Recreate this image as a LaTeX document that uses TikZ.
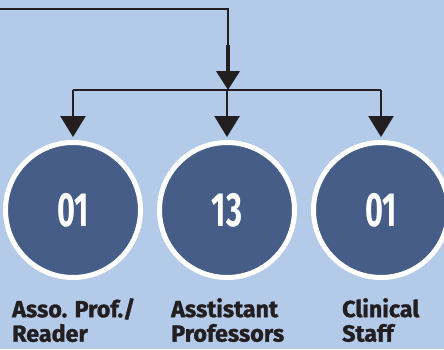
\documentclass[tikz,border=0pt]{standalone}
\usepackage{fontspec}
\setmainfont{Fira Sans}
\newfontfamily\numfont{Fira Sans}
\newfontfamily\lblfont{Fira Sans}[BoldFeatures={FakeBold=1.3}]
\usetikzlibrary{arrows.meta}
\definecolor{bgblue}{RGB}{180,202,233}
\definecolor{circblue}{RGB}{70,93,135}
\definecolor{inkdark}{RGB}{35,31,32}
\tikzset{
  circ/.style={circle, fill=circblue, draw=white, line width=5pt, minimum size=135pt, inner sep=0pt},
  numtxt/.style={text=white, font=\numfont\bfseries\fontsize{48}{48}\selectfont},
  lbl/.style={anchor=north west, inner sep=0pt, align=left, text=inkdark, font=\lblfont\bfseries\fontsize{23.3}{24.5}\selectfont},
  thinline/.style={draw=inkdark, line width=1.4pt},
  branch/.style={draw=inkdark, line width=2.8pt, shorten >=3pt, -{Triangle[width=25pt,length=21pt]}},
  mainarrow/.style={draw=inkdark, line width=4pt, -{Triangle[width=23pt,length=19pt]}},
}
\begin{document}
\begin{tikzpicture}[x=1pt,y=1pt]
\fill[bgblue] (0,0) rectangle (444,349);
\useasboundingbox (0,0) rectangle (444,349);
\coordinate (start) at (0,340);
\coordinate (corner) at (228,340);
\coordinate (mid) at (228,304);
\coordinate (junc) at (228,259);
\node[circ] (c1) at (73,139) {};
\node[circ] (c2) at (227,139) {};
\node[circ] (c3) at (381,139) {};
\node[numtxt] (n1) at (c1) {\scalebox{0.64}[1]{01}};
\node[numtxt] (n2) at (c2) {\scalebox{0.64}[1]{13}};
\node[numtxt] (n3) at (c3) {\scalebox{0.64}[1]{01}};
\node[lbl] (l1) at (12,51) {Asso. Prof./\\Reader};
\node[lbl] (l2) at (171,51) {Asstistant\\Professors};
\node[lbl] (l3) at (342,51) {Clinical\\Staff};
\draw[thinline] (start) -- (corner) -- (mid);
\draw[mainarrow] (mid) -- (junc);
\draw[draw=inkdark, line width=1.6pt] (c1 |- junc) -- (c3 |- junc);
\draw[branch] (c1 |- junc) -- (c1.north);
\draw[branch] (c2 |- junc) -- (c2.north);
\draw[branch] (c3 |- junc) -- (c3.north);
\end{tikzpicture}
\end{document}
